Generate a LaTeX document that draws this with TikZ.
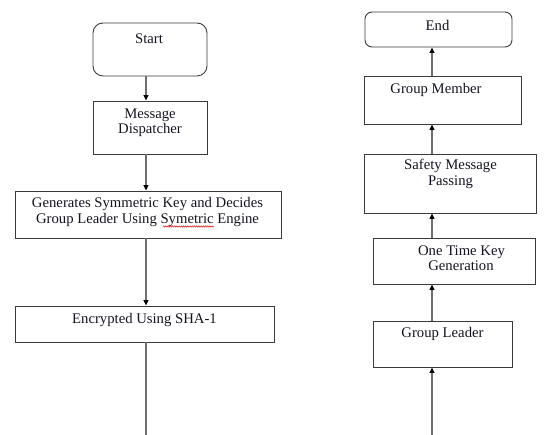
\documentclass[tikz,border=0pt]{standalone}
\usepackage{fontspec}
\setmainfont{Liberation Serif}
\usetikzlibrary{arrows.meta,decorations.pathmorphing}
\definecolor{boxline}{HTML}{3A3A3A}
\definecolor{conline}{HTML}{6E6E6E}
\definecolor{txt}{HTML}{141420}
\tikzset{
  box/.style={draw=boxline, line width=0.9pt, inner sep=0pt},
  rbox/.style={box, rounded corners=#1},
  lbl/.style={anchor=base, inner sep=0pt, text=txt, font=\fontsize{14.7}{16}\selectfont},
  arr/.style={draw=conline, line width=1.1pt, -{Triangle[length=5.5pt,width=5pt,color=black]}},
  con/.style={draw=conline, line width=1.1pt}
}
\begin{document}
\begin{tikzpicture}[x=1pt,y=-1pt]
\useasboundingbox (0,0) rectangle (548,435);
% guide coordinates for connector columns
\coordinate (lx) at (146,0);
\coordinate (rx) at (432,0);
% left column boxes
\node[rbox=10pt, minimum width=114pt, minimum height=53pt] (start) at (150,49.5) {};
\node[box, minimum width=114pt, minimum height=53pt] (md) at (150,127.5) {};
\node[box, minimum width=266pt, minimum height=47pt] (gen) at (148,214.5) {};
\node[box, minimum width=259pt, minimum height=36pt] (enc) at (144.5,324) {};
% right column boxes
\node[rbox=7pt, minimum width=147pt, minimum height=35pt] (end) at (438.5,29.5) {};
\node[box, minimum width=157pt, minimum height=48pt] (gm) at (442.5,100) {};
\node[box, minimum width=172pt, minimum height=59pt] (safe) at (450,183.5) {};
\node[box, minimum width=162pt, minimum height=46pt] (otk) at (454,261) {};
\node[box, minimum width=139pt, minimum height=46pt] (gl) at (442.5,344) {};
% texts
\node[lbl] (tstart) at (149,43.3) {Start};
\node[lbl] (tmd1) at (150,118.7) {Message};
\node[lbl] (tmd2) at (150,134) {Dispatcher};
\node[lbl] (tgen1) at (147.5,207.7) {Generates Symmetric Key and Decides};
\node[lbl] (tgen2) at (147.5,224) {Group Leader Using Symetric Engine};
\node[lbl] (tenc) at (144.5,323.3) {Encrypted Using SHA-1};
\node[lbl] (tend) at (437.5,30.7) {End};
\node[lbl] (tgm) at (436,93.3) {Group Member};
\node[lbl] (tsafe1) at (450.5,170) {Safety Message};
\node[lbl] (tsafe2) at (450.5,185.7) {Passing};
\node[lbl] (totk1) at (461.5,255.7) {One Time Key};
\node[lbl] (totk2) at (461,271) {Generation};
\node[lbl] (tgl) at (442.5,337.7) {Group Leader};
% spell-check underline
\draw[red!85!black, line width=0.45pt, decorate,
      decoration={snake, amplitude=0.7pt, segment length=2.2pt}] (163,226.5) -- (214,226.5);
% free ends
\coordinate (encend) at (146,435);
\coordinate (glstart) at (432,435);
% left connectors
\draw[arr] (start.south -| lx) -- (md.north -| lx);
\draw[arr] (md.south -| lx) -- (gen.north -| lx);
\draw[arr] (gen.south -| lx) -- (enc.north -| lx);
\draw[con] (enc.south -| lx) -- (encend);
% right connectors
\draw[arr] (glstart) -- (gl.south -| rx);
\draw[arr] (gl.north -| rx) -- (otk.south -| rx);
\draw[arr] (otk.north -| rx) -- (safe.south -| rx);
\draw[arr] (safe.north -| rx) -- (gm.south -| rx);
\draw[arr] (gm.north -| rx) -- (end.south -| rx);
\end{tikzpicture}
\end{document}
